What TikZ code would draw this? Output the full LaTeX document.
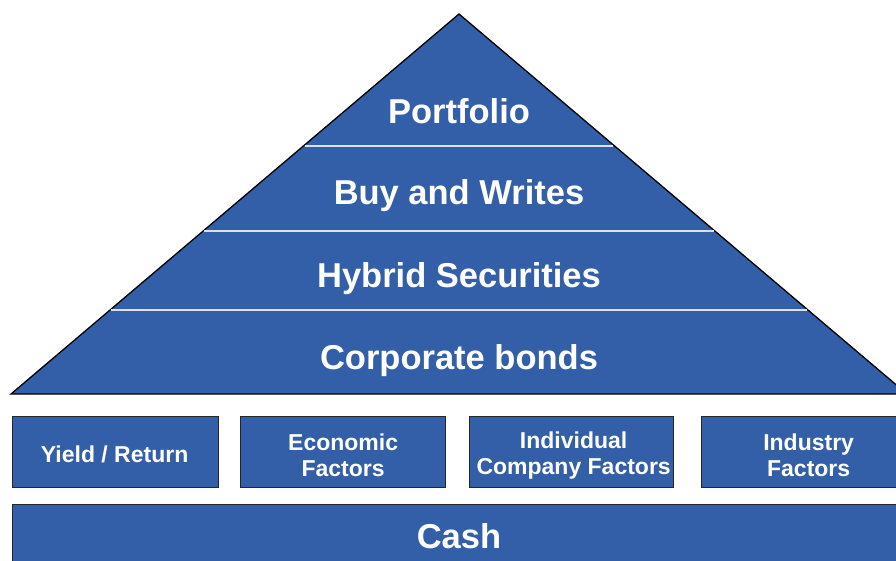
\documentclass[tikz,border=0pt]{standalone}
\usepackage{fontspec}
\setmainfont{Liberation Sans}
\usetikzlibrary{calc}
\definecolor{tierblue}{RGB}{51,95,168}
\definecolor{tierline}{RGB}{220,224,234}
\tikzset{
  tiertext/.style={text=white, font=\bfseries\fontsize{34.5}{38}\selectfont, inner sep=0pt},
  factorbox/.style={draw=black!85, line width=1.3pt, fill=tierblue, inner sep=0pt, anchor=north west},
  factortext/.style={text=white, font=\bfseries\fontsize{23}{26}\selectfont, align=center, inner sep=0pt},
  divider/.style={draw=tierline, line width=1.8pt},
  outline/.style={draw=black, line width=1.3pt, fill=tierblue, line join=miter}
}
\begin{document}
\begin{tikzpicture}[x=1pt, y=-1pt]
  \useasboundingbox (0,0) rectangle (896,561);
  \clip (0,0) rectangle (896,561);

  % pyramid corners
  \coordinate (apex) at (459,14);
  \coordinate (bl) at (11,394);
  \coordinate (br) at (907,394);
  \draw[outline] (apex) -- (bl) -- (br) -- cycle;

  % tier dividers
  \foreach \t/\n in {0.3474/a, 0.5711/b, 0.7789/c} {
    \coordinate (l\n) at ($(apex)!\t!(bl)$);
    \coordinate (r\n) at ($(apex)!\t!(br)$);
    \draw[divider] ($(l\n)+(1.2,0)$) -- ($(r\n)+(-1.2,0)$);
  }

  % tier labels
  \node[tiertext] (portfolio) at (459,111) {Portfolio};
  \node[tiertext] (buywrite) at (459,196) {Buy and Writes};
  \node[tiertext] (hybrid) at (459,279) {Hybrid Securities};
  \node[tiertext] (corporate) at (459,361) {Corporate bonds};

  % factor boxes
  \node[factorbox, minimum width=206pt, minimum height=71pt] (yield) at (12,416) {};
  \node[factorbox, minimum width=205pt, minimum height=71pt] (economic) at (240,416) {};
  \node[factorbox, minimum width=204pt, minimum height=71pt] (company) at (469,416) {};
  \node[factorbox, minimum width=214pt, minimum height=71pt] (industry) at (701,416) {};

  \node[factortext] (yieldtxt) at ($(yield.center)+(-1,2)$) {Yield / Return};
  \node[factortext] (economictxt) at ($(economic.center)+(0,3)$) {Economic\\Factors};
  \node[factortext] (companytxt) at ($(company.center)+(2,3)$) {Individual\\Company Factors};
  \node[factortext] (industrytxt) at ($(industry.center)+(0,3)$) {Industry\\Factors};

  % base
  \node[factorbox, minimum width=920pt, minimum height=90pt] (cashbox) at (12,504) {};
  \node[tiertext] (cash) at (459,536) {Cash};
\end{tikzpicture}
\end{document}
